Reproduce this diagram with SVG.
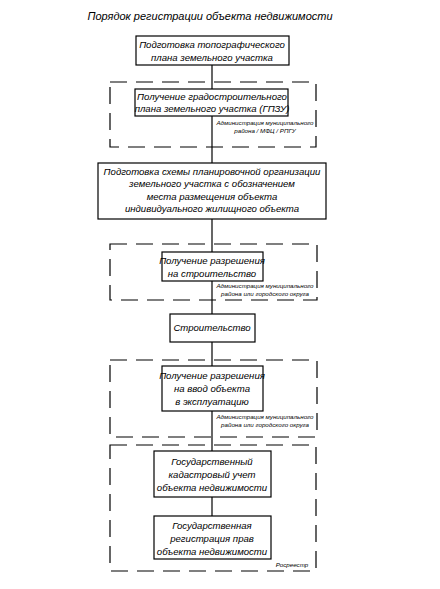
<svg xmlns="http://www.w3.org/2000/svg" width="440" height="589" viewBox="0 0 440 589">
<style>
text{font-family:"Liberation Sans","DejaVu Sans",sans-serif;font-style:italic;fill:#000;text-anchor:middle}
.t{font-size:9.6px}
.h{font-size:11px}
.s{font-size:6.2px}
.box{fill:#fff;stroke:#000;stroke-width:1.2}
.dash{fill:none;stroke:#000;stroke-width:1.2;stroke-dasharray:17 9}
.ln{stroke:#000;stroke-width:1.2;fill:none}
</style>
<rect width="440" height="589" fill="#fff"/>
<text class="h" x="210" y="20">Порядок регистрации объекта недвижимости</text>
<g id="regions">
<rect class="dash" x="110" y="82" width="206" height="65"/>
<rect class="dash" x="110" y="244" width="207" height="56"/>
<rect class="dash" x="110" y="360" width="207" height="77"/>
<rect class="dash" x="110" y="445" width="206" height="126"/>
</g>
<g id="connectors">
<line class="ln" x1="212" y1="65" x2="212" y2="451"/>
<line class="ln" x1="212" y1="497" x2="212" y2="516"/>
</g>
<g id="n1"><rect class="box" x="136" y="36" width="153" height="29"/>
<text class="t" x="212" y="48">Подготовка топографического</text>
<text class="t" x="212" y="61">плана земельного участка</text></g>
<g id="n2"><rect class="box" x="135" y="89" width="153" height="27"/>
<text class="t" x="212" y="100">Получение градостроительного</text>
<text class="t" x="212" y="112">плана земельного участка (ГПЗУ)</text>
<text class="s" x="265" y="125">Администрация муниципального</text>
<text class="s" x="265" y="133">района / МФЦ / РПГУ</text></g>
<g id="n3"><rect class="box" x="98" y="163" width="228" height="56"/>
<text class="t" x="212" y="175">Подготовка схемы планировочной организации</text>
<text class="t" x="212" y="187">земельного участка с обозначением</text>
<text class="t" x="212" y="200">места размещения объекта</text>
<text class="t" x="212" y="212">индивидуального жилищного объекта</text></g>
<g id="n4"><rect class="box" x="162" y="252" width="101" height="29"/>
<text class="t" x="212" y="264">Получение разрешения</text>
<text class="t" x="212" y="277">на строительство</text>
<text class="s" x="265" y="288">Администрация муниципального</text>
<text class="s" x="265" y="296">района или городского округа</text></g>
<g id="n5"><rect class="box" x="170" y="314" width="85" height="28"/>
<text class="t" x="212" y="331">Строительство</text></g>
<g id="n6"><rect class="box" x="162" y="366" width="101" height="45"/>
<text class="t" x="212" y="379">Получение разрешения</text>
<text class="t" x="212" y="392">на ввод объекта</text>
<text class="t" x="212" y="405">в эксплуатацию</text>
<text class="s" x="265" y="419">Администрация муниципального</text>
<text class="s" x="265" y="427">района или городского округа</text></g>
<g id="n7"><rect class="box" x="154" y="451" width="117" height="46"/>
<text class="t" x="212" y="465">Государственный</text>
<text class="t" x="212" y="478">кадастровый учет</text>
<text class="t" x="212" y="491">объекта недвижимости</text></g>
<g id="n8"><rect class="box" x="154" y="516" width="117" height="43"/>
<text class="t" x="212" y="529">Государственная</text>
<text class="t" x="212" y="542">регистрация прав</text>
<text class="t" x="212" y="555">объекта недвижимости</text>
<text class="s" x="292" y="567">Росреестр</text></g>
</svg>
